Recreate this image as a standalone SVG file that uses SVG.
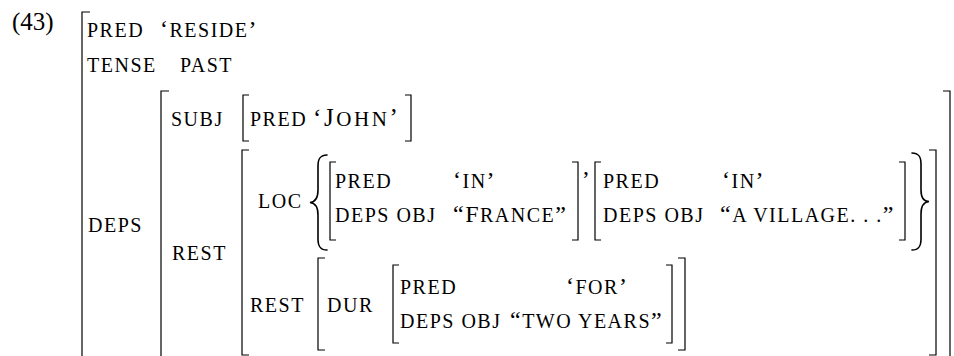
<svg xmlns="http://www.w3.org/2000/svg" width="954" height="356" viewBox="0 0 954 356" font-family="'Liberation Serif', 'Times New Roman', serif">
<style>
text { font-family: "Liberation Serif", "Times New Roman", serif; fill: #000; }
.sc { font-size: 20px; letter-spacing: 1.5px; }
.big { font-size: 24px; }
.br { fill: none; stroke: #000; stroke-width: 1.2; }
.brace { fill: none; stroke: #000; stroke-width: 1.6; stroke-linecap: round; }
</style>
<rect width="954" height="356" fill="#fff"/>

<g id="example-number">
  <text x="12" y="30" style="font-size:25px">(43)</text>
</g>

<g id="avm-main">
  <path class="br" d="M90 12 H82 V360"/>
  <text class="sc" x="87" y="37">PRED</text>
  <text class="sc" x="160" y="37"><tspan class="big">‘</tspan>RESIDE<tspan class="big">’</tspan></text>
  <text class="sc" x="87" y="72">TENSE</text>
  <text class="sc" x="180" y="72">PAST</text>
  <text class="sc" x="88" y="232">DEPS</text>
</g>

<g id="avm-deps">
  <path class="br" d="M169 91 H161 V360"/>
  <path class="br" d="M943 91 H950 V360"/>
  <text class="sc" x="171" y="126">SUBJ</text>
  <text class="sc" x="172" y="260">REST</text>
</g>

<g id="avm-subj">
  <path class="br" d="M249 95 H243 V141 H249"/>
  <path class="br" d="M405 95 H411 V141 H405"/>
  <text class="sc" x="250" y="126">PRED</text>
  <text class="sc" x="313" y="126" style="letter-spacing:2.6px"><tspan style="font-size:25px">‘J</tspan><tspan style="font-size:21px">OHN</tspan><tspan style="font-size:25px">’</tspan></text>
</g>

<g id="avm-rest">
  <path class="br" d="M249 150 H242 V355 H249"/>
  <path class="br" d="M929 150 H936 V355 H929"/>
  <text class="sc" x="258" y="208">LOC</text>
  <text class="sc" x="250" y="312">REST</text>
</g>

<g id="loc-set">
  <path class="brace" d="M327,155 C320,155 318,159 318,166 L318,190 C318,198 315,202 310,202.5 C315,203 318,207 318,215 L318,239 C318,246 320,250 327,250"/>
  <path class="brace" d="M912,153 C919,153 921,157 921,164 L921,190 C921,198 924,201.5 929,201.5 C924,202 921,206 921,214 L921,239 C921,246 919,250 912,250"/>
  <text class="big" x="583" y="174">,</text>
</g>

<g id="avm-in-france">
  <path class="br" d="M336 162 H330 V240 H336"/>
  <path class="br" d="M572 162 H578 V240 H572"/>
  <text class="sc" x="335" y="188">PRED</text>
  <text class="sc" x="453" y="188"><tspan class="big">‘</tspan>IN<tspan class="big">’</tspan></text>
  <text class="sc" x="335" y="222">DEPS OBJ</text>
  <text class="sc" x="453" y="222"><tspan class="big">“F</tspan>RANCE<tspan class="big">”</tspan></text>
</g>

<g id="avm-in-village">
  <path class="br" d="M601 162 H595 V240 H601"/>
  <path class="br" d="M899 162 H905 V240 H899"/>
  <text class="sc" x="603" y="188">PRED</text>
  <text class="sc" x="722" y="188"><tspan class="big">‘</tspan>IN<tspan class="big">’</tspan></text>
  <text class="sc" x="603" y="222">DEPS OBJ</text>
  <text class="sc" x="720" y="222"><tspan class="big">“</tspan>A VILLAGE. . .<tspan class="big">”</tspan></text>
</g>

<g id="avm-rest-dur">
  <path class="br" d="M325 258 H318 V350 H325"/>
  <path class="br" d="M678 258 H685 V350 H678"/>
  <text class="sc" x="327" y="312">DUR</text>
</g>

<g id="avm-for">
  <path class="br" d="M399 265 H393 V343 H399"/>
  <path class="br" d="M666 265 H672 V343 H666"/>
  <text class="sc" x="400" y="294">PRED</text>
  <text class="sc" x="566" y="294"><tspan class="big">‘</tspan>FOR<tspan class="big">’</tspan></text>
  <text class="sc" x="400" y="328">DEPS OBJ</text>
  <text class="sc" x="510" y="328"><tspan class="big">“</tspan>TWO YEARS<tspan class="big">”</tspan></text>
</g>

<g id="connectors"></g>
</svg>
